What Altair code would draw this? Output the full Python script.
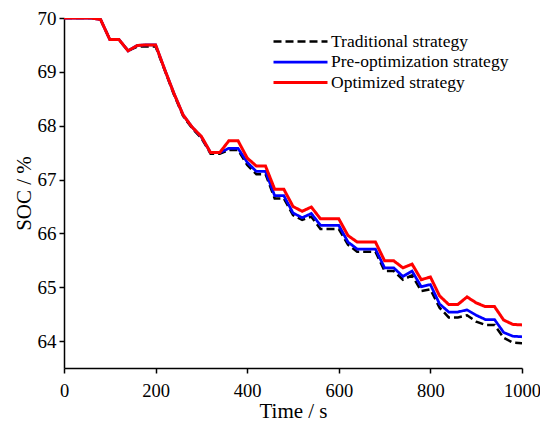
import altair as alt
import pandas as pd

time_s = list(range(0, 1001, 20))

traditional = [70, 70, 70, 70, 69.97, 69.6, 69.6, 69.39, 69.47, 69.47, 69.47,
               69.03, 68.58, 68.18, 67.95, 67.77, 67.48, 67.48, 67.55, 67.55,
               67.27, 67.10, 67.10, 66.65, 66.65, 66.34, 66.25, 66.31, 66.08,
               66.08, 66.08, 65.79, 65.66, 65.66, 65.66, 65.30, 65.30, 65.14,
               65.22, 64.93, 64.96, 64.62, 64.44, 64.44, 64.48, 64.36, 64.30,
               64.30, 64.06, 63.97, 63.96]
pre_opt = [70, 70, 70, 70, 69.97, 69.6, 69.6, 69.39, 69.49, 69.5, 69.5,
           69.04, 68.6, 68.2, 67.97, 67.79, 67.5, 67.5, 67.58, 67.58,
           67.32, 67.15, 67.15, 66.70, 66.70, 66.38, 66.29, 66.37, 66.15,
           66.15, 66.15, 65.84, 65.71, 65.71, 65.71, 65.36, 65.36, 65.20,
           65.30, 65.01, 65.05, 64.69, 64.54, 64.54, 64.58, 64.48, 64.40,
           64.40, 64.16, 64.09, 64.08]
optimized = [70, 70, 70, 70, 69.97, 69.6, 69.6, 69.39, 69.49, 69.5, 69.5,
             69.04, 68.6, 68.2, 67.97, 67.8, 67.5, 67.5, 67.72, 67.72,
             67.40, 67.25, 67.25, 66.82, 66.82, 66.50, 66.41, 66.49, 66.27,
             66.27, 66.27, 65.96, 65.84, 65.84, 65.84, 65.49, 65.49, 65.36,
             65.43, 65.14, 65.19, 64.84, 64.68, 64.68, 64.82, 64.71, 64.64,
             64.64, 64.39, 64.31, 64.30]

series_names = ["Traditional strategy", "Pre-optimization strategy", "Optimized strategy"]
series_values = [traditional, pre_opt, optimized]

rows = []
for name, vals in zip(series_names, series_values):
    for t, v in zip(time_s, vals):
        rows.append({"t": t, "soc": v, "series": name})
df = pd.DataFrame(rows)

FONT = "Liberation Serif"

legend = alt.Legend(
    title=None,
    orient="none",
    legendX=226,
    legendY=13,
    symbolType="M-3,0L3,0",
    symbolSize=324,
    symbolStrokeWidth=3,
    labelOffset=20,
    labelFont=FONT,
    labelFontSize=17.5,
    labelColor="black",
    labelLimit=0,
    rowPadding=1.5,
)

chart = alt.Chart(df).mark_line(clip=True).encode(
    x=alt.X("t:Q", title="Time / s",
            scale=alt.Scale(domain=[0, 1000], nice=False),
            axis=alt.Axis(values=[0, 200, 400, 600, 800, 1000], format="d",
                          labelFlush=False,
                          labelFontSize=18.5, labelPadding=8, titlePadding=1)),
    y=alt.Y("soc:Q", title="SOC / %",
            scale=alt.Scale(domain=[63.5, 70], nice=False, zero=False),
            axis=alt.Axis(values=[64, 65, 66, 67, 68, 69, 70], format="d",
                          labelFlush=False,
                          labelFontSize=19, labelPadding=3, titlePadding=3)),
    color=alt.Color("series:N", sort=series_names,
                    scale=alt.Scale(domain=series_names, range=["#000000", "#0000ff", "#ff0000"]),
                    legend=legend),
    strokeDash=alt.StrokeDash("series:N", sort=series_names,
                              scale=alt.Scale(domain=series_names, range=[[8, 4], [1, 0], [1, 0]]),
                              legend=legend),
    strokeWidth=alt.StrokeWidth("series:N",
                                scale=alt.Scale(domain=series_names, range=[2.5, 3, 3.5]),
                                legend=None),
).properties(
    width=458,
    height=350,
    autosize=alt.AutoSizeParams(type="none"),
    padding={"left": 56, "top": 10, "right": 18, "bottom": 55},
).configure_view(
    stroke=None
).configure_axis(
    grid=False,
    domainColor="black",
    domainWidth=1.5,
    tickColor="black",
    tickWidth=1.5,
    tickSize=5,
    labelFont=FONT,
    labelColor="black",
    titleFont=FONT,
    titleFontSize=21,
    titleFontWeight="normal",
    titleColor="black",
)

chart.save("out.html", embed_options={"renderer": "svg", "actions": False})
